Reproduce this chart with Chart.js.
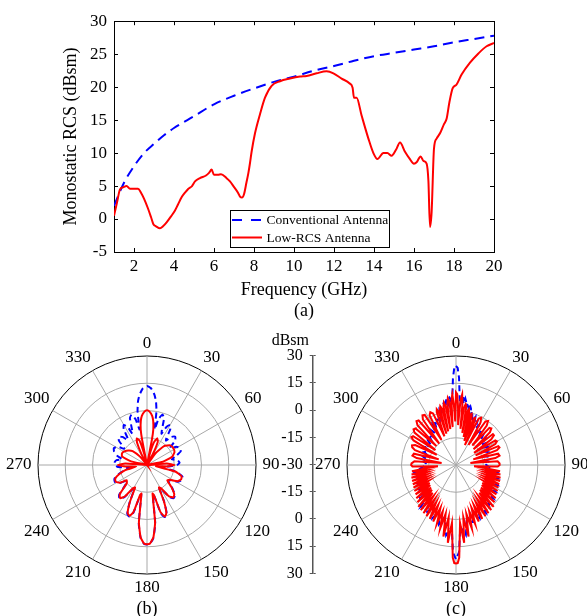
<!DOCTYPE html>
<html><head><meta charset="utf-8">
<script src="https://cdn.jsdelivr.net/npm/chart.js@4.4.1/dist/chart.umd.min.js"></script>
<style>
html,body{margin:0;padding:0;background:#fff;width:587px;height:616px;overflow:hidden;position:relative;}
canvas{position:absolute;}
</style></head><body>
<canvas id="top" width="587" height="330" style="left:0;top:0"></canvas>
<canvas id="polB" width="330" height="286" style="left:-18px;top:334px"></canvas>
<canvas id="axisMid" width="80" height="260" style="left:265px;top:330px"></canvas>
<canvas id="polC" width="330" height="286" style="left:291px;top:334px"></canvas>
<script>
const SERIF = "'Liberation Serif','Times New Roman',serif";

// ---- (a) Monostatic RCS vs frequency ----
const freqTicks = [2,4,6,8,10,12,14,16,18,20];
const rcsTicks = [-5,0,5,10,15,20,25,30];
const convFreq = [1,1.5,2,2.5,3,3.5,4,5,6,7,8,9,10,11,12,13,14,15,16,17,18,19,20];
const convRCS  = [2.0,5.5,8.0,10.0,11.4,12.7,13.8,15.6,17.4,18.7,19.8,20.8,21.6,22.5,23.2,24.0,24.7,25.2,25.7,26.2,26.8,27.3,27.8];
const lowFreq = [1.0,1.15,1.3,1.45,1.63,1.8,2.0,2.2,2.35,2.5,2.7,2.85,2.97,3.1,3.3,3.45,3.63,3.85,4.05,4.2,4.38,4.55,4.72,4.9,5.05,5.3,5.6,5.75,5.88,6.0,6.2,6.35,6.63,6.8,6.97,7.2,7.3,7.4,7.5,7.62,7.72,7.8,7.88,8.05,8.3,8.55,8.88,9.3,9.8,10.3,10.63,11.13,11.63,11.97,12.38,12.77,12.93,13.0,13.13,13.38,13.72,13.97,14.17,14.47,14.67,14.88,15.1,15.3,15.55,15.77,16.0,16.13,16.33,16.47,16.63,16.72,16.8,16.88,17.0,17.13,17.3,17.5,17.63,17.77,17.93,18.13,18.38,18.8,19.22,19.63,20.0];
const lowRCS  = [0.5,2.5,4.5,4.8,5.0,4.6,4.6,4.6,4.0,3.1,1.6,0.3,-0.8,-1.1,-1.4,-1.1,-0.5,0.4,1.3,2.2,3.3,4.0,4.6,5.0,5.7,6.2,6.6,7.0,7.5,6.7,6.7,6.8,6.2,5.7,5.0,4.0,3.4,3.25,3.75,5.5,7.0,8.5,10.2,13.0,15.9,18.4,20.2,20.9,21.3,21.6,21.7,22.1,22.4,22.1,21.3,20.6,19.9,18.4,18.4,15.7,12.2,10.0,9.1,10.0,10.0,9.6,10.5,11.6,10.2,9.2,8.4,8.6,9.5,8.8,8.4,5.8,-1.2,1.0,10.7,12.2,13.0,14.4,15.2,17.7,19.8,20.4,21.9,23.7,25.1,26.2,26.7];

// ---- polar plots: [angle (deg), RCS (dBsm)] ----
const angleTicks = [0,30,60,90,120,150,180,210,240,270,300,330];
const ringTicks = [-30,-15,0,15,30];
const midAxisPos = [-60,-45,-30,-15,0,15,30,45,60];
const midAxisLabels = [30,15,0,-15,-30,-15,0,15,30];

const bConv = [[0,13.5],[3,12.3],[6,9],[8,5.5],[10,0],[11,-6],[12,-10],[14,-4],[17,-1],[20,-2.5],[23,-9],[25,-11],
[27,-6.5],[30,-4.5],[33,-6.5],[36,-12],[38,-13],[41,-9.5],[45,-8],[49,-9.5],[53,-14],[55,-14.5],
[58,-11],[63,-9.5],[68,-10],[73,-13.5],[77,-16],[81,-13],[86,-12],[90,-13.5],[94,-18],[98,-22],
[103,-13.5],[108,-9.5],[113,-9],[118,-10.5],[123,-14.5],[127,-15.5],[132,-11.5],[137,-7.5],[141,-6.5],[145,-8.5],[149,-14.5],[152,-15.5],
[155,-7.5],[158,-1],[161,0.3],[164,-2.5],[167,-12.5],[169,-13.5],[172,2.5],[175,10.3],[178,13.6],[180,13.8],[182,13.6],[185,10.3],[188,2.5],
[191,-13.5],[193,-12.5],[196,-2.5],[199,0],[202,-1],[205,-7.5],[208,-15.5],[211,-14.5],[215,-8.5],[219,-6],[223,-7.5],[228,-14.5],
[233,-15.5],[237,-11.5],[242,-10],[247,-10.5],[252,-13.5],[257,-17],[262,-20],[266,-14],[270,-12.5],[274,-12],[279,-13],
[283,-16],[287,-13],[292,-10.5],[297,-9.5],[302,-11],[305,-14.5],[307,-14],[311,-9.5],[315,-8],[319,-9.5],[322,-12.5],[324,-12],
[327,-6.5],[330,-4.5],[333,-6.5],[335,-11],[337,-9],[340,-2.5],[343,-1],[346,-4],[348,-10],[349,-6],[350,0],[352,5.5],[354,9],[357,12.3]];

const bLow = [[0,0.2],[3,-0.7],[6,-2.8],[8,-5.5],[10,-10],[11,-16],[12,-30],[14,-24],[17,-17],[21,-14.3],[25,-16],[28,-23],[30,-30],
[36,-22],[42,-16],[50,-13.2],[58,-12.8],[65,-13.3],[72,-15.5],[78,-21],[82,-30],[86,-19],[90,-15],[94,-19],[98,-25],
[103,-14],[108,-10],[113,-9.6],[118,-11],[123,-15],[127,-16],[132,-12],[137,-8],[141,-7],[145,-9],[149,-15],[152,-16],
[155,-8],[158,-1.5],[161,0],[164,-3],[167,-13],[169,-14],[172,2],[175,10],[178,13.4],[180,13.6],[182,13.4],[185,10],[188,2],
[191,-14],[193,-13],[196,-3],[199,-0.5],[202,-1.5],[205,-8],[208,-16],[211,-15],[215,-9],[219,-6.5],[223,-8],[228,-15],
[233,-16],[237,-12],[242,-10.5],[247,-11],[252,-14],[257,-18],[262,-24],[266,-18],[270,-14],[274,-18],[278,-30],
[283,-21],[289,-15.5],[295,-14.8],[301,-15.5],[308,-17],[314,-19],[320,-24],[324,-30],[330,-30],[333,-23],[336,-16.5],[339,-14.3],[343,-16],[346,-24],[348,-30],
[349,-16],[350,-10],[352,-5.5],[354,-2.8],[357,-0.7]];

const cConv = [[0,24.5],[1,23.5],[2,18],[3,8],[4,3],[5,6.5],[6,8],[7,4],[8,7],[9,5.5],[10,2],[11,5],[12,4],[13,0],[14,3],[15,2],[16,-2],[17,1],[18,-1],
[20,-4],[22,-1.5],[24,-5],[26,-3],[28,-7],[30,-4.5],[33,-9],[36,-6],[39,-10],[42,-7.5],[45,-11],[48,-8.5],[51,-12],[54,-9.5],[57,-12.5],[60,-10],
[64,-13],[68,-11],[72,-14],[76,-11.5],[80,-14],[84,-12],[88,-14],[92,-12.5],
[96,-10],[100,-7],[104,-11],[108,-6],[112,-10.5],[116,-5],[120,-10],[124,-4],[128,-9],[132,-2.5],[136,-8],[140,0],[144,-6],[148,1],[152,-4],[156,2],[160,-3],[164,4],[168,-1],[172,9],[176,4],
[178,18],[180,22],[182,18],[184,4],[188,9],[192,-1],[196,4],[200,-3],[204,2],[208,-4],[212,1],[216,-6],[220,0],[224,-8],[228,-2.5],[232,-9],[236,-4],[240,-10],[244,-5],[248,-10.5],[252,-6],[256,-11],[260,-7],[264,-10],
[268,-12.5],[272,-14],[276,-12],[280,-14],[284,-11.5],[288,-14],[292,-11],[296,-13],[300,-10],[303,-12.5],[306,-9.5],[309,-12],[312,-8.5],[315,-11],[318,-7.5],[321,-10],[324,-6],[327,-9],
[330,-4.5],[332,-7],[334,-3],[336,-5],[338,-1.5],[340,-4],[342,-1],[343,1],[344,-2],[345,2],[346,3],[347,0],[348,4],[349,5],[350,2],[351,5.5],[352,7],[353,4],[354,8],[355,6.5],[356,3],[357,8],[358,18],[359,23.5]];

const cLow = [[0,10],[1,9],[2,2],[3,-8],[4,6],[5,9],[6,4],[7,-10],[8,2],[9,4],[10,3],[11,-12],[12,0],[13,1.5],[14,0],[15,-14],[16,-1],[17,-0.5],[18,-2],[19,-16],
[21,-2.5],[22,-2],[23,-4],[24,-18],[26,-1.5],[28,-0.5],[30,-3],[32,-17],[34,-1],[36,0],[38,-2.5],[40,-16],[42,-2.5],[44,-2],[46,-4],[48,-17],[50,-3.5],[52,-3.5],[54,-6],[56,-18],
[58,-4.5],[60,-4],[62,-5.5],[64,-18],[66,-4.5],[68,-4.2],[70,-6],[72,-20],[75,-6],[78,-5.5],[80,-8],[82,-22],[85,-7],[88,-6],[90,-6],[92,-7],[94,-20],
[96,-14],[98,-5.5],[100,-13.5],[102,-5],[104,-13.5],[106,-4.5],[108,-13],[110,-4.2],[112,-13],[114,-4],[116,-12.5],[118,-3.5],[120,-12.5],[122,-3],[124,-12.5],[126,-2.5],[128,-12],[130,-1.5],
[132,-11.5],[134,-0.5],[136,-11],[138,1],[140,-10],[142,1.5],[144,-9],[146,2],[148,-8],[150,2.5],[152,-7],[154,3],[156,-6],[158,3.5],[160,-5],[162,4],[164,-3.5],[166,6],[168,-2.5],[170,10],[172,-1],[174,13],[176,2],
[178,21],[179,24],[180,24.2],[181,24],[182,21],[184,2],[186,13],[188,-1],[190,10],[192,-2.5],[194,6],[196,-3.5],[198,4],[200,-5],[202,3.5],[204,-6],[206,3],[208,-7],[210,2.5],[212,-8],[214,2],[216,-9],[218,1.5],
[220,-10],[222,1],[224,-11],[226,-0.5],[228,-11.5],[230,-1.5],[232,-12],[234,-2.5],[236,-12.5],[238,-3],[240,-12.5],[242,-3.5],[244,-12.5],[246,-4],[248,-13],[250,-4.3],[252,-13],[254,-4.5],[256,-13.5],[258,-5],[260,-13.5],[262,-5.5],[264,-14],
[266,-20],[268,-6],[270,-5.3],[272,-5.5],[275,-7],[278,-22],[280,-8],[282,-5.5],[285,-6],[288,-20],[290,-6],[292,-4],[294,-3.5],[296,-5],[298,-18],[300,-3],[302,-1],[304,-1.5],[306,-16],
[308,-1],[310,0.5],[312,0],[314,-15],[316,0.5],[318,2.5],[320,2],[322,-15],[324,1],[326,3],[328,2.5],[330,-14],[332,1],[334,2.3],[336,1],[338,-13],[340,1],[341,2.5],[342,1],[343,-12],
[344,2],[345,3.5],[346,2],[347,-11],[348,3],[349,5],[350,3],[351,-10],[352,4],[353,7],[354,5],[355,-9],[356,6],[357,9],[358,3],[359,-6]];

// ---- helpers ----
const ANGLES = Array.from({length:360}, (_, i) => i);
function toRadar(pairs){ const d = new Array(360).fill(null); pairs.forEach(([a,v]) => { d[a] = v; }); return d; }
const BLUE = '#0000ff', RED = '#ff0000';

const boxLegend = {
  id: 'boxLegend',
  afterDraw(chart) {
    const ctx = chart.ctx;
    ctx.save();
    const x0 = 230.5, y0 = 210.5, w = 159, h = 37;
    ctx.fillStyle = '#fff'; ctx.fillRect(x0, y0, w, h);
    ctx.strokeStyle = '#000'; ctx.lineWidth = 1; ctx.setLineDash([]); ctx.strokeRect(x0, y0, w, h);
    chart.data.datasets.forEach((ds, i) => {
      const y = 220 + i * 17.5;
      ctx.beginPath();
      ctx.setLineDash(ds.borderDash && ds.borderDash.length ? [10, 9] : []);
      ctx.strokeStyle = ds.borderColor; ctx.lineWidth = 2;
      ctx.moveTo(232, y); ctx.lineTo(262, y); ctx.stroke();
      ctx.setLineDash([]);
      ctx.fillStyle = '#000'; ctx.font = '13.5px ' + SERIF;
      ctx.textBaseline = 'middle'; ctx.textAlign = 'left';
      ctx.fillText(ds.label, 266.5, y + 0.5);
    });
    ctx.restore();
  }
};

const tickFont = {family: SERIF, size: 17};
const setTicks = arr => s => { s.ticks = arr.map(v => ({value: v})); };

new Chart(document.getElementById('top'), {
  type: 'line',
  data: { datasets: [
    { label: 'Conventional Antenna', data: convFreq.map((f, i) => ({x: f, y: convRCS[i]})),
      borderColor: BLUE, borderWidth: 2, borderDash: [10, 6], pointRadius: 0, fill: false, order: 2, cubicInterpolationMode: 'monotone' },
    { label: 'Low-RCS Antenna', data: lowFreq.map((f, i) => ({x: f, y: lowRCS[i]})),
      borderColor: RED, borderWidth: 2, pointRadius: 0, fill: false, order: 1, cubicInterpolationMode: 'monotone' }
  ]},
  options: {
    responsive: false, animation: false, events: [],
    layout: { padding: 0 },
    plugins: { legend: { display: false }, tooltip: { enabled: false } },
    scales: {
      x: { type: 'linear', position: 'bottom', min: 1, max: 20, afterBuildTicks: setTicks(freqTicks),
           afterFit: s => { s.height = 78; },
           grid: { drawOnChartArea: false, tickLength: -4, color: '#000' }, border: { color: '#000', width: 1 },
           ticks: { padding: 8, color: '#000', font: tickFont, maxRotation: 0, autoSkip: false },
           title: { display: true, text: ['Frequency (GHz)', '(a)'], color: '#000', font: {family: SERIF, size: 18}, padding: {top: 0, bottom: 7.6} } },
      x2: { type: 'linear', position: 'top', min: 1, max: 20, afterBuildTicks: setTicks(freqTicks),
            afterFit: s => { s.height = 17.5; },
            grid: { drawOnChartArea: false, tickLength: -4, color: '#000' }, border: { color: '#000', width: 1 },
            ticks: { display: false } },
      y: { type: 'linear', position: 'left', min: -5, max: 30, afterBuildTicks: setTicks(rcsTicks),
           afterFit: s => { s.width = 114; },
           grid: { drawOnChartArea: false, tickLength: -4, color: '#000' }, border: { color: '#000', width: 1 },
           ticks: { padding: 11, color: '#000', font: tickFont },
           title: { display: true, text: 'Monostatic RCS (dBsm)', color: '#000', font: {family: SERIF, size: 18}, padding: {top: 60, bottom: 0} } },
      y2: { type: 'linear', position: 'right', min: -5, max: 30, afterBuildTicks: setTicks(rcsTicks),
            afterFit: s => { s.width = 93; },
            grid: { drawOnChartArea: false, tickLength: -4, color: '#000' }, border: { color: '#000', width: 1 },
            ticks: { display: false } }
    }
  },
  plugins: [boxLegend]
});

function polarChart(id, title, conv, low, tension) {
  const isTick = i => angleTicks.includes(i);
  return new Chart(document.getElementById(id), {
    type: 'radar',
    data: { labels: ANGLES, datasets: [
      { label: 'Conventional Antenna', data: toRadar(conv), borderColor: BLUE, borderWidth: 2, borderDash: [6, 4],
        spanGaps: true, fill: false, pointRadius: 0, tension: tension, order: 2 },
      { label: 'Low-RCS Antenna', data: toRadar(low), borderColor: RED, borderWidth: 2,
        spanGaps: true, fill: false, pointRadius: 0, tension: tension, order: 1 }
    ]},
    options: {
      responsive: false, animation: false, events: [],
      layout: { padding: 0 },
      plugins: { legend: { display: false }, tooltip: { enabled: false },
        title: { display: true, position: 'bottom', text: title, color: '#000', font: {family: SERIF, size: 18, weight: 'normal'}, padding: 0 } },
      scales: { r: {
        min: -30, max: 30, startAngle: 0,
        ticks: { display: false, stepSize: 15 },
        afterBuildTicks: setTicks(ringTicks),
        grid: { circular: true, color: c => (c.tick && c.tick.value === 30) ? '#000' : '#a8a8a8', lineWidth: 1 },
        angleLines: { color: c => isTick(c.index) ? '#a8a8a8' : 'rgba(0,0,0,0)', lineWidth: c => isTick(c.index) ? 1 : 0 },
        pointLabels: {
          callback: (l, i) => isTick(i) ? String(l) : '',
          color: '#000', font: {family: SERIF, size: 17},
          padding: c => c.index === 0 ? 2 : c.index === 180 ? 3 : (c.index === 90 || c.index === 270) ? 6.5 : isTick(c.index) ? 3.5 : 0
        }
      }}
    }
  });
}
polarChart('polB', '(b)', bConv, bLow, 0.15);
polarChart('polC', '(c)', cConv, cLow, 0);

new Chart(document.getElementById('axisMid'), {
  type: 'line',
  data: { labels: [], datasets: [] },
  options: {
    responsive: false, animation: false, events: [],
    layout: { padding: { left: 0, right: 29.3, top: 0, bottom: 15.7 } },
    plugins: { legend: { display: false }, tooltip: { enabled: false },
      title: { display: true, text: 'dBsm', color: '#000', font: {family: SERIF, size: 16, weight: 'normal'}, padding: {top: 1, bottom: 5.5} } },
    scales: {
      x: { display: false },
      y: { type: 'linear', min: -60, max: 60, afterBuildTicks: setTicks(midAxisPos),
           afterFit: s => { s.width = 47.7; },
           ticks: { callback: (v, i) => String(midAxisLabels[i]), color: '#000', font: {family: SERIF, size: 16}, padding: 7 },
           grid: { color: '#555', lineWidth: 1, tickLength: 3, drawOnChartArea: true },
           border: { color: '#555', width: 1.5 } }
    }
  }
});
</script>
</body></html>
